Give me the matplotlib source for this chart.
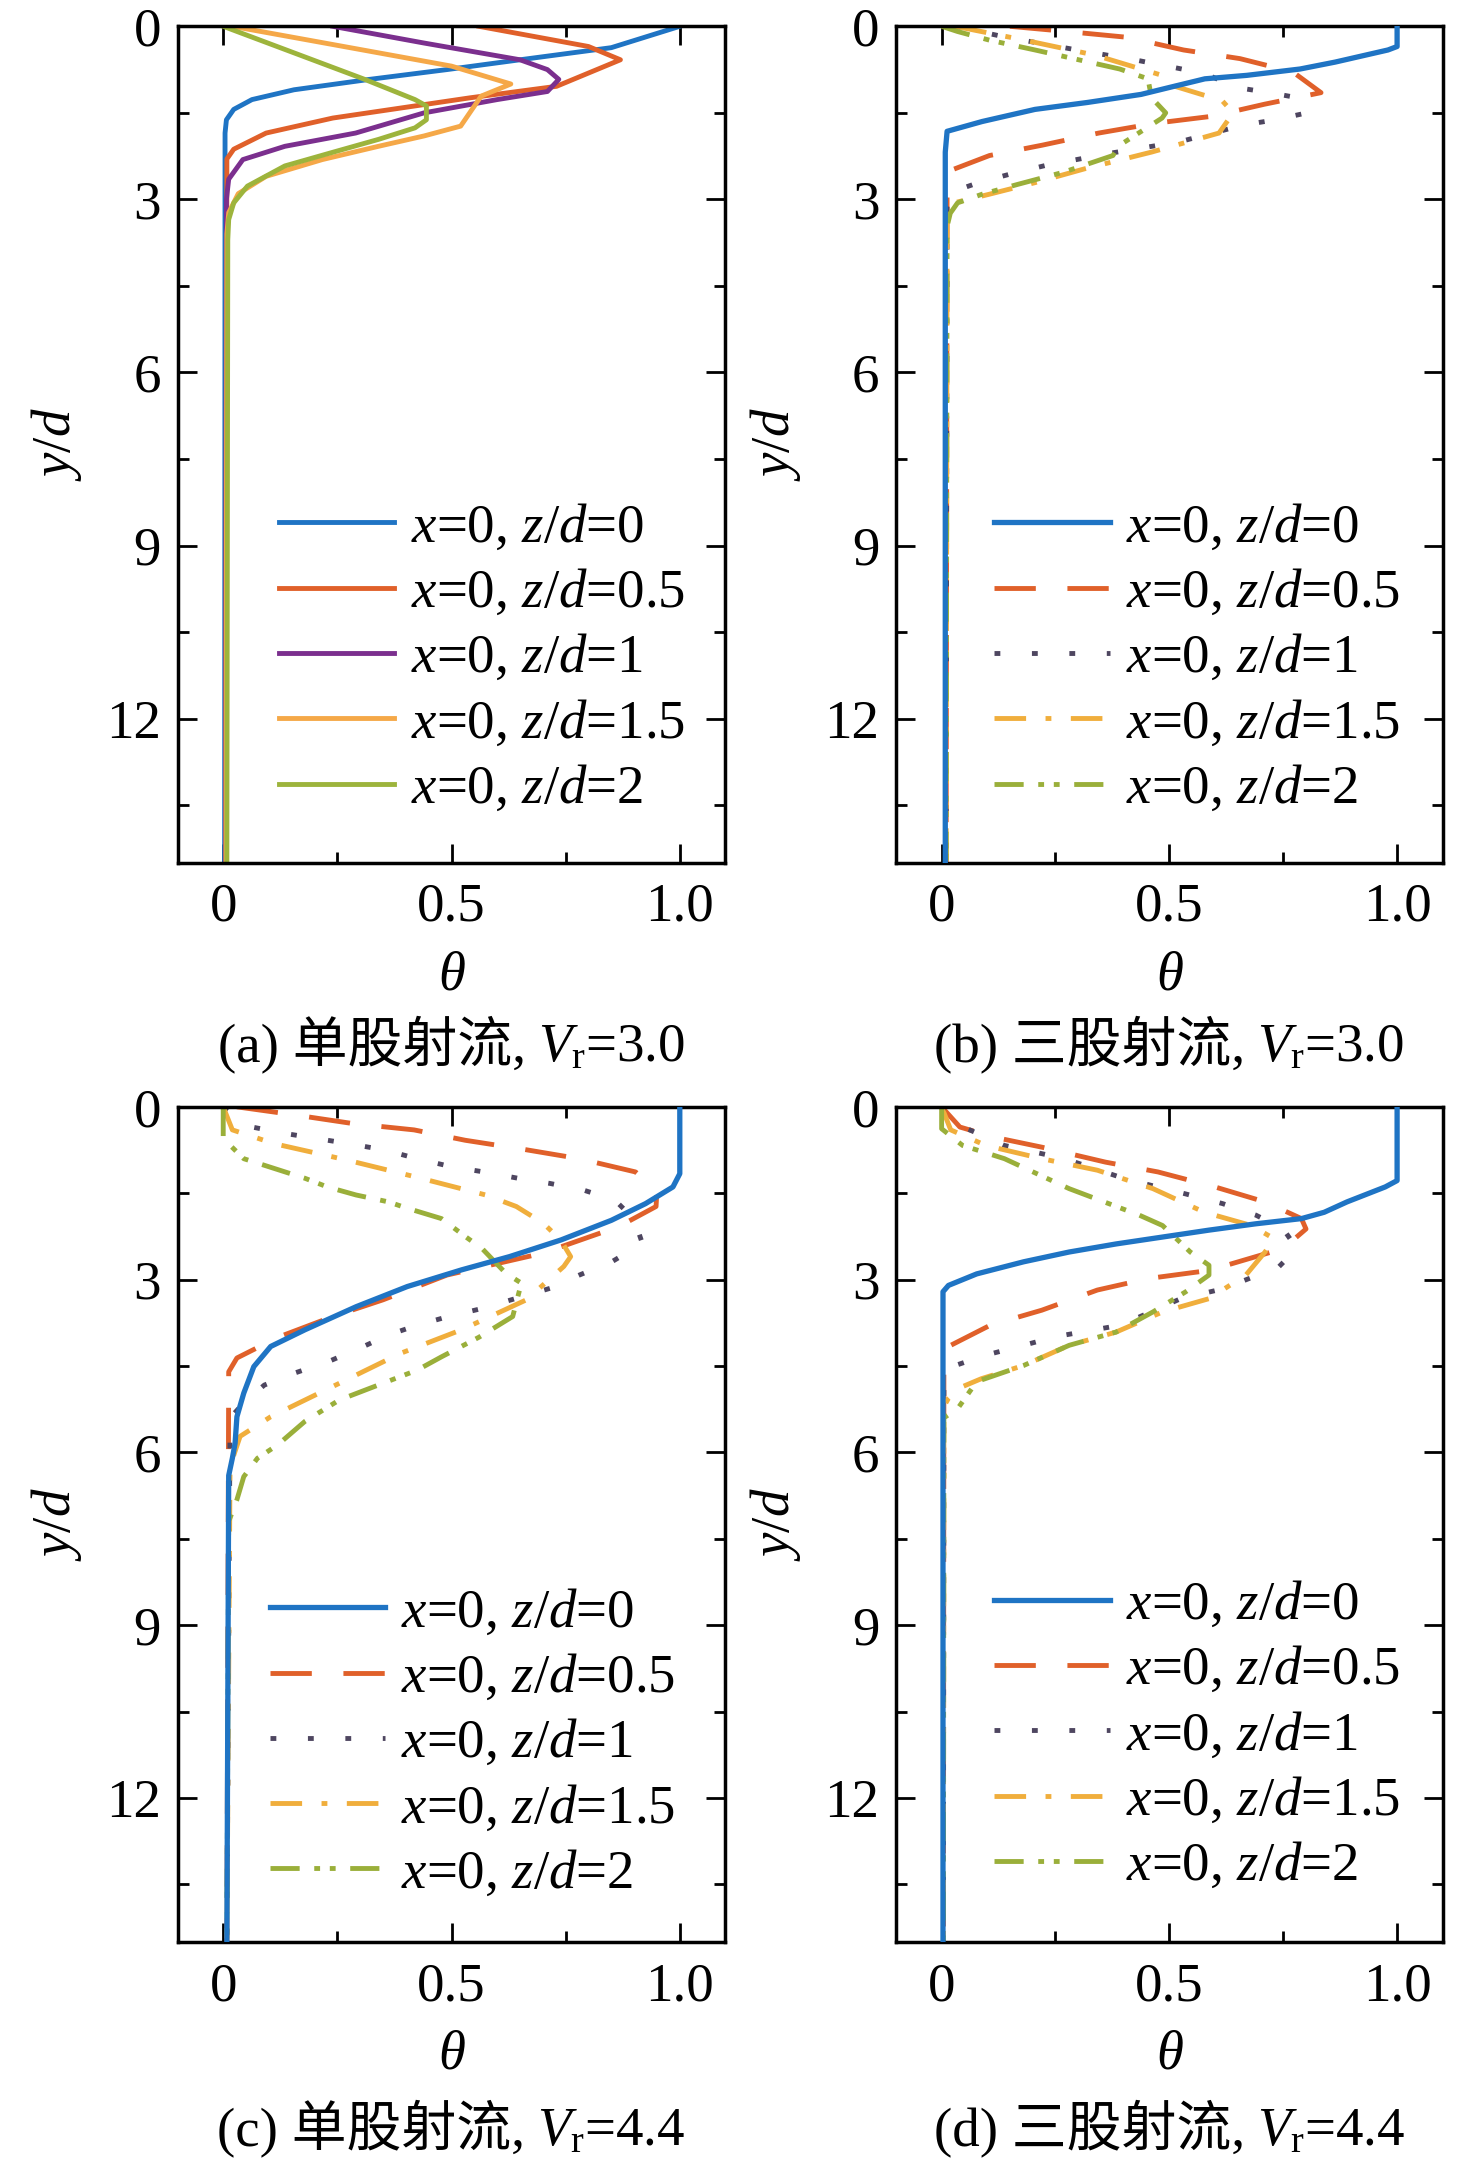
import matplotlib
matplotlib.use('Agg')
import matplotlib.pyplot as plt
from matplotlib.ticker import FixedLocator, MultipleLocator

plt.rcParams['font.family'] = ['Liberation Serif', 'DejaVu Serif']
plt.rcParams['mathtext.fontset'] = 'custom'
plt.rcParams['mathtext.rm'] = 'Liberation Serif'
plt.rcParams['mathtext.it'] = 'Liberation Serif:italic'
plt.rcParams['font.size'] = 39.5

# (theta, y/d) pairs
# (a) single jet, Vr=3.0
A_Z0 = [(1.0, 0.0), (0.85, 0.37), (0.65, 0.58), (0.49, 0.75), (0.32, 0.92), (0.155, 1.10),
        (0.063, 1.27), (0.023, 1.44), (0.007, 1.62), (0.004, 1.85), (0.003, 14.5)]
A_Z05 = [(0.56, 0.0), (0.8, 0.35), (0.87, 0.58), (0.73, 1.04), (0.54, 1.24), (0.42, 1.38),
         (0.24, 1.59), (0.094, 1.85), (0.023, 2.13), (0.008, 2.3), (0.005, 14.5)]
A_Z1 = [(0.24, 0.0), (0.44, 0.29), (0.65, 0.58), (0.71, 0.75), (0.735, 0.92), (0.71, 1.13),
        (0.6, 1.27), (0.44, 1.5), (0.29, 1.85), (0.135, 2.08), (0.043, 2.31), (0.012, 2.65),
        (0.007, 3.0), (0.005, 14.5)]
A_Z15 = [(0.02, 0.0), (0.25, 0.33), (0.5, 0.69), (0.63, 1.0), (0.565, 1.21), (0.545, 1.44),
         (0.52, 1.73), (0.44, 1.9), (0.34, 2.08), (0.217, 2.31), (0.094, 2.6), (0.033, 2.9),
         (0.012, 3.23), (0.008, 3.6), (0.006, 14.5)]
A_Z2 = [(0.0, 0.0), (0.155, 0.46), (0.31, 0.92), (0.42, 1.27), (0.445, 1.38), (0.445, 1.62),
        (0.42, 1.76), (0.34, 1.96), (0.237, 2.19), (0.135, 2.42), (0.053, 2.77), (0.023, 3.06),
        (0.012, 3.35), (0.01, 3.7), (0.008, 14.5)]

# (b) triple jet, Vr=3.0
B_Z0 = [(1.0, 0.0), (1.0, 0.35), (0.98, 0.41), (0.864, 0.62), (0.787, 0.74), (0.67, 0.85),
        (0.578, 0.91), (0.5, 1.06), (0.438, 1.18), (0.32, 1.32), (0.205, 1.44), (0.089, 1.65),
        (0.012, 1.82), (0.008, 2.18), (0.008, 14.5)]
B_Z05 = [(0.15, 0.0), (0.275, 0.09), (0.407, 0.19), (0.531, 0.41), (0.655, 0.56), (0.771, 0.79),
         (0.833, 1.15), (0.709, 1.35), (0.593, 1.56), (0.469, 1.68), (0.345, 1.85), (0.221, 2.06),
         (0.105, 2.24), (0.019, 2.5), (0.012, 2.7), (0.01, 14.5)]
B_Z1 = [(0.03, 0.0), (0.136, 0.18), (0.29, 0.4), (0.43, 0.59), (0.508, 0.71), (0.578, 0.82),
        (0.647, 1.06), (0.72, 1.15), (0.783, 1.24), (0.802, 1.5), (0.733, 1.62), (0.663, 1.71),
        (0.523, 2.0), (0.37, 2.2), (0.229, 2.41), (0.151, 2.56), (0.081, 2.71), (0.019, 2.88),
        (0.012, 3.12), (0.01, 14.5)]
B_Z15 = [(0.03, 0.0), (0.182, 0.24), (0.337, 0.5), (0.484, 0.85), (0.508, 1.03), (0.616, 1.29),
         (0.64, 1.5), (0.609, 1.85), (0.461, 2.18), (0.314, 2.47), (0.205, 2.71), (0.105, 2.91),
         (0.027, 3.06), (0.012, 3.35), (0.01, 14.5)]
B_Z2 = [(0.0, 0.0), (0.035, 0.09), (0.105, 0.24), (0.205, 0.41), (0.391, 0.74), (0.453, 0.91),
        (0.461, 1.24), (0.492, 1.5), (0.484, 1.59), (0.391, 2.06), (0.376, 2.24), (0.267, 2.53),
        (0.167, 2.74), (0.089, 2.91), (0.035, 3.06), (0.019, 3.24), (0.012, 3.47), (0.01, 14.5)]

# (c) single jet, Vr=4.4
C_Z0 = [(1.0, 0.0), (1.0, 1.16), (0.985, 1.39), (0.925, 1.68), (0.85, 1.97), (0.74, 2.31),
        (0.627, 2.6), (0.522, 2.83), (0.403, 3.12), (0.291, 3.47), (0.179, 3.87), (0.104, 4.16),
        (0.067, 4.51), (0.045, 4.97), (0.03, 5.38), (0.026, 5.84), (0.02, 6.1), (0.012, 6.4),
        (0.008, 14.5)]
C_Z05 = [(0.03, 0.0), (0.157, 0.14), (0.284, 0.29), (0.418, 0.4), (0.53, 0.58), (0.66, 0.74),
         (0.78, 0.9), (0.903, 1.13), (0.95, 1.45), (0.948, 1.73), (0.866, 2.08), (0.70, 2.54),
         (0.49, 2.92), (0.35, 3.35), (0.24, 3.64), (0.12, 4.0), (0.03, 4.36), (0.012, 4.6),
         (0.008, 14.5)]
C_Z1 = [(0.0, 0.0), (0.063, 0.35), (0.134, 0.46), (0.276, 0.64), (0.354, 0.75), (0.425, 0.9),
        (0.5, 1.04), (0.571, 1.13), (0.646, 1.24), (0.716, 1.33), (0.791, 1.45), (0.858, 1.62),
        (0.9, 1.95), (0.918, 2.37), (0.851, 2.69), (0.78, 2.92), (0.716, 3.15), (0.567, 3.5),
        (0.493, 3.64), (0.425, 3.79), (0.362, 3.96), (0.299, 4.19), (0.231, 4.42), (0.157, 4.62),
        (0.09, 4.83), (0.045, 5.14), (0.015, 5.4), (0.008, 14.5)]
C_Z15 = [(0.0, 0.0), (0.02, 0.4), (0.112, 0.64), (0.269, 0.92), (0.418, 1.21), (0.575, 1.53),
         (0.642, 1.73), (0.701, 2.02), (0.739, 2.31), (0.761, 2.6), (0.746, 2.77), (0.664, 3.35),
         (0.522, 3.87), (0.388, 4.28), (0.254, 4.8), (0.104, 5.38), (0.037, 5.72), (0.015, 6.24),
         (0.008, 14.5)]
C_Z2 = [(0.0, 0.0), (0.0, 0.55), (0.045, 0.9), (0.112, 1.07), (0.179, 1.24), (0.228, 1.39),
        (0.291, 1.53), (0.362, 1.65), (0.403, 1.76), (0.478, 1.94), (0.53, 2.25), (0.567, 2.46),
        (0.619, 2.89), (0.653, 3.06), (0.634, 3.64), (0.56, 4.0), (0.478, 4.34), (0.425, 4.57),
        (0.254, 5.09), (0.179, 5.46), (0.119, 5.87), (0.075, 6.1), (0.045, 6.42), (0.03, 6.82),
        (0.012, 7.2), (0.008, 14.5)]

# (d) triple jet, Vr=4.4
D_Z0 = [(1.0, 0.0), (1.0, 1.28), (0.974, 1.39), (0.89, 1.65), (0.84, 1.83), (0.79, 1.94),
        (0.69, 2.03), (0.587, 2.14), (0.485, 2.26), (0.383, 2.38), (0.28, 2.52), (0.18, 2.69),
        (0.077, 2.9), (0.015, 3.1), (0.003, 3.21), (0.003, 14.5)]
D_Z05 = [(0.0, 0.0), (0.04, 0.35), (0.117, 0.53), (0.22, 0.7), (0.36, 0.96), (0.475, 1.13),
         (0.6, 1.39), (0.71, 1.65), (0.79, 1.94), (0.8, 2.12), (0.75, 2.46), (0.587, 2.84),
         (0.454, 2.98), (0.342, 3.18), (0.22, 3.53), (0.107, 3.79), (0.02, 4.14), (0.005, 4.37),
         (0.004, 14.5)]
D_Z1 = [(0.0, 0.0), (0.01, 0.2), (0.056, 0.38), (0.138, 0.67), (0.27, 0.9), (0.403, 1.25),
        (0.535, 1.51), (0.617, 1.68), (0.69, 1.88), (0.75, 2.12), (0.78, 2.46), (0.74, 2.78),
        (0.617, 3.16), (0.525, 3.33), (0.393, 3.79), (0.25, 3.99), (0.18, 4.14), (0.097, 4.31),
        (0.03, 4.49), (0.015, 4.6), (0.005, 4.8), (0.004, 14.5)]
D_Z15 = [(0.0, 0.0), (0.02, 0.4), (0.097, 0.67), (0.22, 0.9), (0.342, 1.1), (0.464, 1.42),
         (0.577, 1.83), (0.68, 2.06), (0.73, 2.29), (0.71, 2.52), (0.668, 2.92), (0.587, 3.33),
         (0.485, 3.56), (0.383, 3.91), (0.28, 4.14), (0.18, 4.49), (0.087, 4.72), (0.036, 4.89),
         (0.015, 5.06), (0.005, 5.2), (0.004, 14.5)]
D_Z2 = [(0.0, 0.0), (0.0, 0.38), (0.046, 0.67), (0.138, 0.9), (0.28, 1.42), (0.434, 1.88),
        (0.485, 2.06), (0.546, 2.52), (0.587, 2.75), (0.587, 2.92), (0.536, 3.21), (0.464, 3.56),
        (0.383, 3.91), (0.28, 4.14), (0.18, 4.49), (0.077, 4.77), (0.036, 5.23), (0.005, 5.4),
        (0.004, 14.5)]

LABELS = ['$x$=0, $z/d$=0', '$x$=0, $z/d$=0.5', '$x$=0, $z/d$=1',
          '$x$=0, $z/d$=1.5', '$x$=0, $z/d$=2']
CAPTIONS = ['(a) 单股射流,', '(b) 三股射流,', '(c) 单股射流,', '(d) 三股射流,']
VR = ['3.0', '3.0', '4.4', '4.4']
XTICKS = [0, 0.5, 1.0]
XTICKLABELS = ['0', '0.5', '1.0']
YTICKS = [0, 3, 6, 9, 12]

COLORS_A = ['#1f74c4', '#e0602a', '#7b2f8e', '#f5a848', '#9db43c']
COLORS_B = ['#1f74c4', '#e0602a', '#4e4660', '#f0ae3c', '#9aaf3a']
STYLES_B = ['-', (0, (8.5, 6.5)), (0, (1.2, 6.5)), (0, (6.5, 4, 1.2, 4)),
            (0, (6, 3, 1.2, 2, 1.2, 3))]

CJK = ['Liberation Serif', 'Noto Sans CJK SC']

fig = plt.figure(figsize=(14.76, 21.75), dpi=100)
positions = [[0.1203, 0.6033, 0.3712, 0.3846], [0.6071, 0.6033, 0.3703, 0.3846],
             [0.1203, 0.1071, 0.3712, 0.3840], [0.6071, 0.1071, 0.3703, 0.3840]]
panels = [[A_Z0, A_Z05, A_Z1, A_Z15, A_Z2], [B_Z0, B_Z05, B_Z1, B_Z15, B_Z2],
          [C_Z0, C_Z05, C_Z1, C_Z15, C_Z2], [D_Z0, D_Z05, D_Z1, D_Z15, D_Z2]]
legend_anchor = [(0.185, 0.43), (0.18, 0.43), (0.168, 0.424), (0.18, 0.433)]

axes = []
for i, (pos, series) in enumerate(zip(positions, panels)):
    ax = fig.add_axes(pos)
    axes.append(ax)
    for j, pts in enumerate(series):
        th = [p[0] for p in pts]
        yy = [p[1] for p in pts]
        if i == 0:
            ax.plot(th, yy, color=COLORS_A[j], lw=3.5, label=LABELS[j])
        else:
            ax.plot(th, yy, color=COLORS_B[j], lw=3.8 if j == 0 else 3.5,
                    linestyle=STYLES_B[j], label=LABELS[j], zorder=3 if j == 0 else 2)
    ax.set_xlim(-0.1, 1.1)
    ax.set_ylim(14.5, 0)
    ax.xaxis.set_major_locator(FixedLocator(XTICKS))
    ax.set_xticklabels(XTICKLABELS)
    ax.xaxis.set_minor_locator(MultipleLocator(0.25))
    ax.yaxis.set_major_locator(FixedLocator(YTICKS))
    ax.yaxis.set_minor_locator(MultipleLocator(1.5))
    ax.tick_params(which='both', direction='in', top=True, right=True, width=2.0)
    ax.tick_params(which='major', length=14)
    ax.tick_params(which='minor', length=8)
    ax.tick_params(axis='x', pad=14)
    ax.tick_params(axis='y', pad=12)
    for sp in ax.spines.values():
        sp.set_linewidth(2.5)
    ax.set_xlabel(r'$\theta$')
    ax.xaxis.set_label_coords(0.5, -0.105)
    ax.set_ylabel('$y/d$')
    ax.yaxis.set_label_coords(-0.17, 0.5)
    ax.legend(loc='upper left', bbox_to_anchor=legend_anchor[i], frameon=False,
              handlelength=2.1, handletextpad=0.3, labelspacing=0.27, borderpad=0,
              borderaxespad=0)

# captions: Chinese part and the V_r part drawn side by side, centred under each panel
fig.canvas.draw()
rend = fig.canvas.get_renderer()
W = fig.get_figwidth() * fig.dpi
cap_y = [0.512, 0.512, 0.0135, 0.0135]
for ax, cap, vr, y in zip(axes, CAPTIONS, VR, cap_y):
    t1 = fig.text(0, y, cap, family=CJK, ha='left', va='baseline')
    t2 = fig.text(0, y, r'$V_{\mathrm{r}}$=' + vr, ha='left', va='baseline')
    w1 = t1.get_window_extent(rend).width
    w2 = t2.get_window_extent(rend).width
    gap = 12
    bb = ax.get_window_extent(rend)
    cx = (bb.x0 + bb.x1) / 2
    x1 = cx - (w1 + gap + w2) / 2
    t1.set_x(x1 / W)
    t2.set_x((x1 + w1 + gap) / W)

fig.savefig('out.png', dpi=100)
